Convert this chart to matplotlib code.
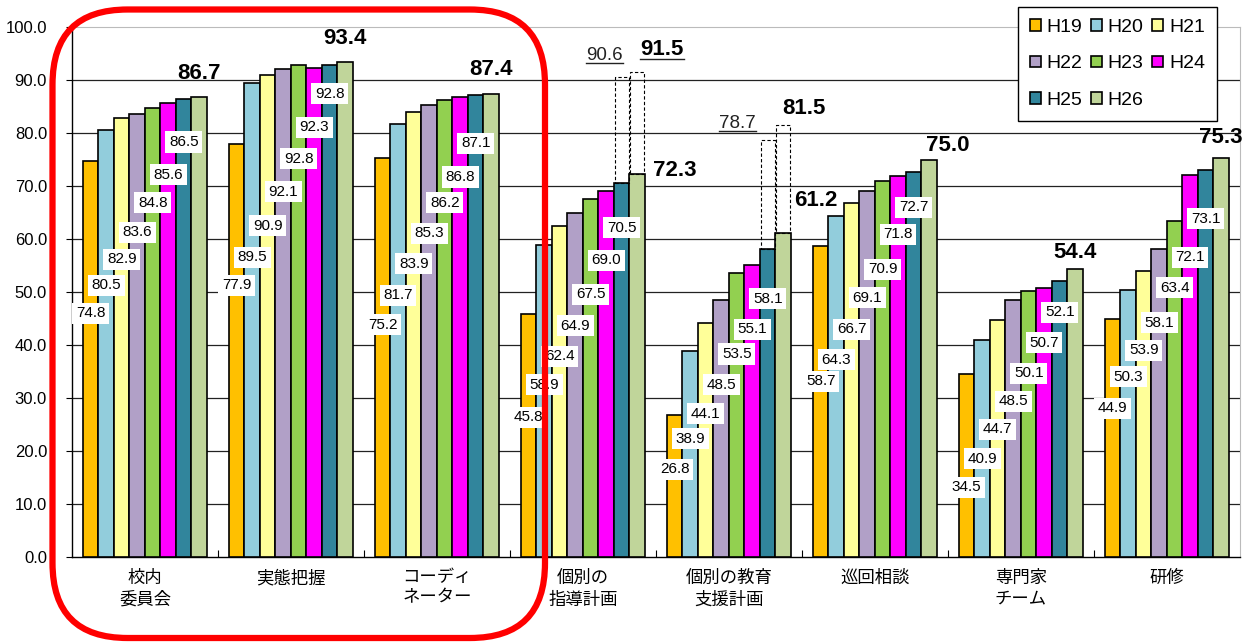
import matplotlib
matplotlib.use("Agg")
import matplotlib.pyplot as plt
import numpy as np
from matplotlib.patches import FancyBboxPatch
from matplotlib.transforms import IdentityTransform
from matplotlib.lines import Line2D

plt.rcParams['font.family'] = ['Liberation Sans', 'Noto Sans CJK JP', 'DejaVu Sans']

categories = ["校内\n委員会", "実態把握", "コーディ\nネーター", "個別の\n指導計画",
              "個別の教育\n支援計画", "巡回相談", "専門家\nチーム", "研修"]
years = ["H19", "H20", "H21", "H22", "H23", "H24", "H25", "H26"]

H19 = [74.8, 77.9, 75.2, 45.8, 26.8, 58.7, 34.5, 44.9]
H20 = [80.5, 89.5, 81.7, 58.9, 38.9, 64.3, 40.9, 50.3]
H21 = [82.9, 90.9, 83.9, 62.4, 44.1, 66.7, 44.7, 53.9]
H22 = [83.6, 92.1, 85.3, 64.9, 48.5, 69.1, 48.5, 58.1]
H23 = [84.8, 92.8, 86.2, 67.5, 53.5, 70.9, 50.1, 63.4]
H24 = [85.6, 92.3, 86.8, 69.0, 55.1, 71.8, 50.7, 72.1]
H25 = [86.5, 92.8, 87.1, 70.5, 58.1, 72.7, 52.1, 73.1]
H26 = [86.7, 93.4, 87.4, 72.3, 61.2, 75.0, 54.4, 75.3]
series = [H19, H20, H21, H22, H23, H24, H25, H26]

# extended (dashed) values for 個別の指導計画 / 個別の教育支援計画 (H25, H26)
ext_groups = [3, 4]
ext_H25 = [90.6, 78.7]
ext_H26 = [91.5, 81.5]

colors = ["#FFC000", "#92CDDC", "#FFFF99", "#B1A0C7", "#92D050", "#FF00FF", "#31859C", "#C0D59A"]

# layout: label y-positions (data units) for H19..H25 labels in each group
label_y = [
    [46.0, 51.3, 56.2, 61.3, 66.8, 72.1, 78.3],
    [51.3, 56.6, 62.5, 68.9, 75.1, 81.1, 87.4],
    [43.8, 49.4, 55.3, 61.1, 66.8, 71.7, 78.1],
    [26.4, 32.5, 37.9, 43.6, 49.6, 56.0, 62.1],
    [16.6, 22.3, 27.0, 32.5, 38.3, 43.0, 48.7],
    [33.2, 37.2, 43.0, 48.9, 54.3, 60.9, 66.0],
    [13.2, 18.5, 24.1, 29.4, 34.7, 40.4, 46.2],
    [28.1, 34.0, 39.0, 44.2, 50.8, 56.6, 63.8],
]
top_dx = [0, 0, 0, 2.45, 2.1, 1.2, 0, 0]
top_y = [91.3, 97.9, 91.9, 73.0, 67.2, 77.7, 57.5, 79.1]
ext_lbl = [  # (dx in bar widths from H26 centre, y, bold, underline)
    [(-2.1, 94.7, False, True), (1.6, 95.8, True, True)],
    [(-2.95, 81.7, False, True), (1.35, 84.7, True, False)],
]

W, H = 1248, 643
fig = plt.figure(figsize=(W / 100, H / 100), dpi=100)
ax = fig.add_axes([72 / W, 1 - 557 / H, (1240 - 72) / W, (557 - 27) / H])

n = len(categories)
bw = 15.5 / 146
x = np.arange(n)
start = x + 0.5 - 0.425

for i, s in enumerate(series):
    ax.bar(start + bw * (i + 0.5), s, width=bw, color=colors[i], edgecolor='black',
           linewidth=1.2, zorder=3, label=years[i])

# dashed extension boxes
for k, g in enumerate(ext_groups):
    for j, (yr, ev) in enumerate([(6, ext_H25[k]), (7, ext_H26[k])]):
        base = series[yr][g]
        ax.bar(start[g] + bw * (yr + 0.5), ev - base, bottom=base, width=bw * 0.92,
               fill=False, edgecolor='black', linestyle=(0, (3, 2)), linewidth=0.8, zorder=3)

# small data labels
for g in range(n):
    for i in range(7):
        ax.text(start[g] + bw * (i + 0.5), label_y[g][i], f"{series[i][g]:.1f}",
                ha='center', va='center', fontsize=11, zorder=5,
                bbox=dict(facecolor='white', edgecolor='none', pad=2.5))
    ax.text(start[g] + bw * (7.5 + top_dx[g]), top_y[g], f"{series[7][g]:.1f}",
            ha='center', va='center', fontsize=16, fontweight='bold', zorder=5)

under = []
for k, g in enumerate(ext_groups):
    vals = [ext_H25[k], ext_H26[k]]
    for j in range(2):
        dx, yy, bold, ul = ext_lbl[k][j]
        t = ax.text(start[g] + bw * (7.5 + dx), yy, f"{vals[j]:.1f}", ha='center', va='center',
                    fontsize=16 if bold else 13.5, fontweight='bold' if bold else 'normal',
                    color='black' if bold else '#222222', zorder=5)
        if ul:
            under.append(t)

ax.set_xlim(0, n)
ax.set_ylim(0, 100)
ax.set_yticks(np.arange(0, 101, 10))
ax.set_yticklabels([f"{v:.1f}" for v in np.arange(0, 101, 10)], fontsize=12)
ax.set_xticks(x + 0.5)
ax.set_xticklabels(categories, fontsize=12.5, linespacing=1.45)
ax.set_xticks(np.arange(1, n), minor=True)
ax.tick_params(axis='x', which='major', length=0, pad=9)
ax.tick_params(axis='x', which='minor', direction='in', length=5, width=0.8)
ax.tick_params(axis='y', direction='out', length=4, width=0.8, pad=14)

for yv in range(10, 100, 10):
    ax.axhline(yv, color='#222222', linewidth=0.9, zorder=1)
ax.spines['top'].set_color('#BBBBBB')
ax.spines['right'].set_color('#BBBBBB')
ax.spines['left'].set_linewidth(1.0)
ax.spines['bottom'].set_linewidth(1.0)

handles, labels = ax.get_legend_handles_labels()
order = [0, 3, 6, 1, 4, 7, 2, 5]
leg = fig.legend([handles[i] for i in order], [labels[i] for i in order], ncol=3,
                 loc='upper left', bbox_to_anchor=(1018 / W, 1 - 7 / H), fontsize=14,
                 frameon=True, fancybox=False, edgecolor='black', framealpha=1,
                 handlelength=0.55, handleheight=0.55, handletextpad=0.3,
                 columnspacing=0.45, labelspacing=1.0, borderpad=0.62, borderaxespad=0)
leg.get_frame().set_linewidth(1.0)

fig.canvas.draw()
r = fig.canvas.get_renderer()
for t in under:
    bb = t.get_window_extent(r)
    fig.add_artist(Line2D([bb.x0, bb.x1], [bb.y0 + 1, bb.y0 + 1], color='#222222',
                          linewidth=1.0, transform=IdentityTransform()))

rect = FancyBboxPatch((52.5, H - 638), 545 - 52.5, 638 - 9.5,
                      boxstyle="round,pad=0,rounding_size=75", fill=False,
                      edgecolor='#FF0000', linewidth=4.5, transform=IdentityTransform(),
                      zorder=10)
fig.add_artist(rect)

fig.savefig("out.png", dpi=100)
